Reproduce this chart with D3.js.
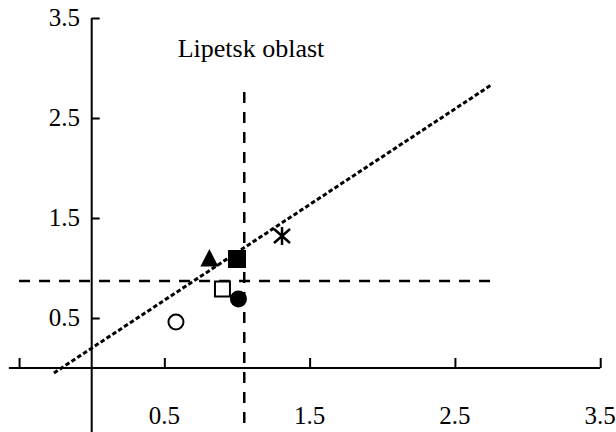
<!DOCTYPE html>
<html>
<head>
<meta charset="utf-8">
<script src="https://cdn.jsdelivr.net/npm/d3@7"></script>
<style>
  html, body { margin: 0; padding: 0; background: #fff; }
  svg { display: block; }
  text { font-family: "Liberation Serif", "Times New Roman", serif; fill: #000; }
</style>
</head>
<body>
<svg id="chart" width="616" height="432"></svg>
<script>
// Region points (x, y) with their marker shapes
const pointX     = [0.58, 0.81, 1.00, 0.90, 1.01, 1.31];
const pointY     = [0.46, 1.10, 1.09, 0.79, 0.69, 1.32];
const pointShape = ["circleOpen", "triangle", "squareFilled", "squareOpen", "circleFilled", "asterisk"];

// Fitted trend line endpoints
const trendX = [-0.26, 2.75];
const trendY = [-0.05, 2.83];

// Mean reference lines
const meanY = 0.87, meanYFrom = -0.5, meanYTo = 2.76;
const meanX = 1.05, meanXFrom = 2.76, meanXTo = -0.66;

// Axis ticks
const xTicks = [-0.5, 0.5, 1.5, 2.5, 3.5];
const xTickLabels = ["", "0.5", "1.5", "2.5", "3.5"];
const yTicks = [0.5, 1.5, 2.5, 3.5];
const yTickLabels = ["0.5", "1.5", "2.5", "3.5"];

const title = "Lipetsk oblast";

const svg = d3.select("#chart");
const x = d3.scaleLinear().domain([0, 3.5]).range([91.7, 600.2]);
const y = d3.scaleLinear().domain([0, 3.5]).range([368, 18]);

// Axes: x axis ticks point up, y axis ticks point right
const xAxis = d3.axisTop(x).tickValues(xTicks).tickSizeInner(10).tickSizeOuter(0)
  .tickFormat(() => "");
const gx = svg.append("g").attr("transform", `translate(0,${y(0)})`).call(xAxis);
gx.select(".domain").attr("d", `M${x(-0.57)},0H${x(3.5)}`);

const yAxis = d3.axisRight(y).tickValues(yTicks).tickSizeInner(8).tickSizeOuter(0)
  .tickFormat(() => "");
const gy = svg.append("g").attr("transform", `translate(${x(0)},0)`).call(yAxis);
gy.select(".domain").attr("d", `M0,${y(3.5)}V${y(-0.66)}`);

svg.selectAll(".domain, .tick line").attr("stroke", "#000").attr("stroke-width", 2);

// Tick labels
svg.append("g").selectAll("text").data(xTicks).join("text")
  .attr("x", d => x(d))
  .attr("y", 424)
  .attr("text-anchor", "middle")
  .attr("font-size", 25)
  .text((d, i) => xTickLabels[i]);

svg.append("g").selectAll("text").data(yTicks).join("text")
  .attr("x", 80)
  .attr("y", d => y(d))
  .attr("dy", "0.33em")
  .attr("text-anchor", "end")
  .attr("font-size", 25)
  .text((d, i) => yTickLabels[i]);

// Title
svg.append("text")
  .attr("x", 251)
  .attr("y", 57)
  .attr("text-anchor", "middle")
  .attr("font-size", 26)
  .text(title);

// Mean lines (dashed)
svg.append("line")
  .attr("x1", x(meanYFrom)).attr("x2", x(meanYTo))
  .attr("y1", y(meanY)).attr("y2", y(meanY))
  .attr("stroke", "#000").attr("stroke-width", 2.5)
  .attr("stroke-dasharray", "11,9");
svg.append("line")
  .attr("x1", x(meanX)).attr("x2", x(meanX))
  .attr("y1", y(meanXFrom)).attr("y2", y(meanXTo))
  .attr("stroke", "#000").attr("stroke-width", 2.5)
  .attr("stroke-dasharray", "11,9");

// Trend line (dotted)
svg.append("path")
  .datum(trendX.map((d, i) => [d, trendY[i]]))
  .attr("d", d3.line().x(d => x(d[0])).y(d => y(d[1])))
  .attr("fill", "none").attr("stroke", "#000").attr("stroke-width", 3)
  .attr("stroke-dasharray", "4.5,2.5");

// Markers
const markers = svg.append("g");
pointX.forEach((px, i) => {
  const cx = x(px), cy = y(pointY[i]);
  const s = pointShape[i];
  const g = markers.append("g").attr("transform", `translate(${cx},${cy})`);
  if (s === "circleOpen") {
    g.append("circle").attr("r", 7.5).attr("fill", "#fff").attr("stroke", "#000").attr("stroke-width", 2);
  } else if (s === "circleFilled") {
    g.append("circle").attr("r", 8.5).attr("fill", "#000");
  } else if (s === "squareFilled") {
    g.append("rect").attr("x", -9).attr("y", -9).attr("width", 18).attr("height", 18).attr("fill", "#000");
  } else if (s === "squareOpen") {
    g.append("rect").attr("x", -7.5).attr("y", -7.5).attr("width", 15).attr("height", 15)
      .attr("fill", "#fff").attr("stroke", "#000").attr("stroke-width", 2);
  } else if (s === "triangle") {
    g.append("path").attr("d", "M0,-9L9,8.5L-9,8.5Z").attr("fill", "#000");
  } else if (s === "asterisk") {
    g.append("path").attr("d", "M0,-9V9M-8,-7L8,7M-8,7L8,-7")
      .attr("stroke", "#000").attr("stroke-width", 2.5).attr("fill", "none");
  }
});
</script>
</body>
</html>
